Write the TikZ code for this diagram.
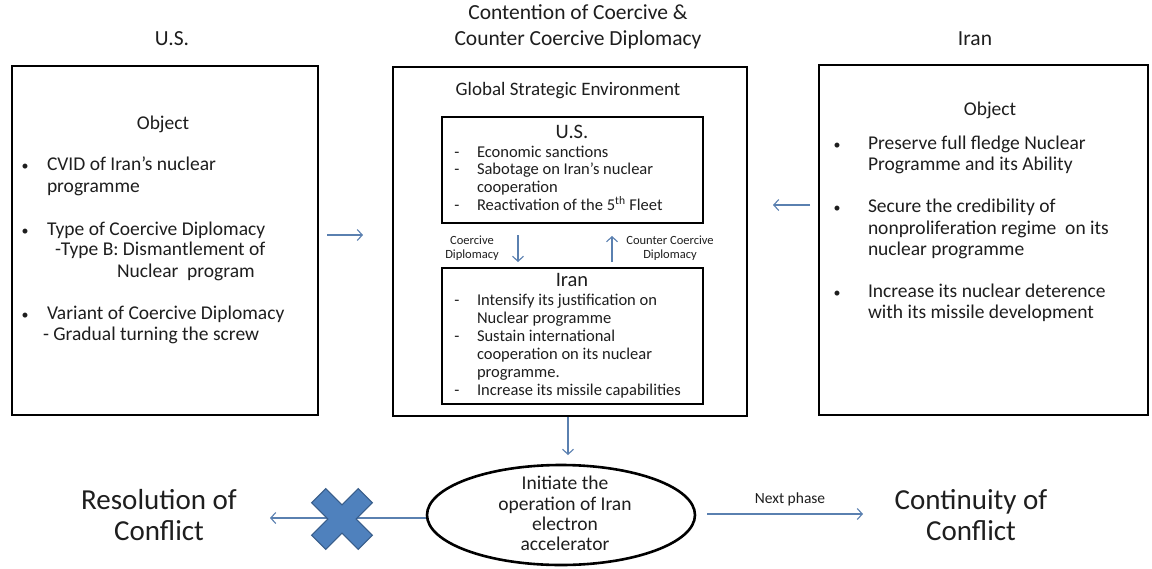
\documentclass[tikz,border=0pt]{standalone}
\usepackage{fontspec}
\setmainfont{Carlito}
\usetikzlibrary{arrows.meta,shapes.geometric}
\newcommand\FS[1]{\fontsize{#1}{#1}\selectfont}
\definecolor{arrowblue}{HTML}{5A80B0}
\definecolor{xfill}{HTML}{4F81BD}
\definecolor{xline}{HTML}{385D8A}
\definecolor{txtc}{HTML}{1E1E1E}
\tikzset{
  txt/.style={inner sep=0pt, outer sep=0pt, text=txtc, anchor=mid},
  ltxt/.style={txt, anchor=mid west},
  box/.style={draw=black, line width=2.4pt, inner sep=0pt, fill=none},
  ibox/.style={draw=black, line width=2.8pt, inner sep=0pt},
  arr/.style={draw=arrowblue, line width=1.1pt, -{Straight Barb[length=5pt,width=11pt]}},
  body/.style={font=\FS{19.5}},
  bul/.style={txt, font=\FS{14}},
  small/.style={font=\FS{16.5}},
  tiny/.style={font=\FS{12.5}},
}
\begin{document}
\begin{tikzpicture}[x=1pt,y=-1pt]
\useasboundingbox (0,0) rectangle (1152,568);
\fill[white] (0,0) rectangle (1152,568);

% top titles
\node[txt, font=\FS{21.5}] (tUS) at (172,43) {U.S.};
\node[txt, font=\FS{21.5}] (tC1) at (578,17) {Contention of Coercive \&};
\node[txt, font=\FS{21.5}] (tC2) at (578,43) {Counter Coercive Diplomacy};
\node[txt, font=\FS{21.5}] (tIran) at (975,43) {Iran};

% boxes
\node[box, minimum width=306, minimum height=349] (lbox) at (165,240.5) {};
\node[box, minimum width=354, minimum height=349] (cbox) at (570,241.5) {};
\node[box, minimum width=329, minimum height=350] (rbox) at (983.5,240) {};

% left box text
\node[txt, body] (lobj) at (163,127) {Object};
\node[bul] (lb1) at (25,168) {\textbullet};
\node[bul] (lb2) at (25,233) {\textbullet};
\node[bul] (lb3) at (25,317) {\textbullet};
\node[ltxt, body] (l1) at (47,168) {CVID of Iran’s nuclear};
\node[ltxt, body] (l2) at (47,190) {programme};
\node[ltxt, body] (l3) at (47,233) {Type of Coercive Diplomacy};
\node[ltxt, body] (l4) at (55,253) {-Type B: Dismantlement of};
\node[ltxt, body] (l5) at (117,275) {Nuclear\ \ program};
\node[ltxt, body] (l6) at (47,317) {Variant of Coercive Diplomacy};
\node[ltxt, body] (l7) at (43,338) {- Gradual turning the screw};

% right box text
\node[txt, body] (robj) at (990,113) {Object};
\node[bul] (rb1) at (837,147) {\textbullet};
\node[bul] (rb2) at (837,210) {\textbullet};
\node[bul] (rb3) at (837,295) {\textbullet};
\node[ltxt, body] (r1) at (868,147) {Preserve full fledge Nuclear};
\node[ltxt, body] (r2) at (868,168) {Programme and its Ability};
\node[ltxt, body] (r3) at (868,210) {Secure the credibility of};
\node[ltxt, body] (r4) at (868,232) {nonproliferation regime\ \ on its};
\node[ltxt, body] (r5) at (868,253) {nuclear programme};
\node[ltxt, body] (r6) at (868,295) {Increase its nuclear deterence};
\node[ltxt, body] (r7) at (868,316) {with its missile development};

% center content
\node[txt, font=\FS{19}] (gse) at (568,93) {Global Strategic Environment};
\node[ibox, minimum width=261, minimum height=106] (usbox) at (572.5,170) {};
\node[txt, font=\FS{20.5}] (ust) at (572,136) {U.S.};
\node[txt, small] (ud1) at (457,155) {-};
\node[txt, small] (ud2) at (457,172) {-};
\node[txt, small] (ud3) at (457,208) {-};
\node[ltxt, small] (u1) at (477,155) {Economic sanctions};
\node[ltxt, small] (u2) at (477,172) {Sabotage on Iran’s nuclear};
\node[ltxt, small] (u3) at (477,190) {cooperation};
\node[ltxt, small] (u4) at (477,208) {Reactivation of the 5\textsuperscript{th} Fleet};

\node[txt, tiny] (cd1) at (472,242) {Coercive};
\node[txt, tiny] (cd2) at (472,256) {Diplomacy};
\node[txt, tiny] (ccd1) at (670,242) {Counter Coercive};
\node[txt, tiny] (ccd2) at (670,256) {Diplomacy};

\node[ibox, minimum width=261, minimum height=136] (irbox) at (572.5,336) {};
\node[txt, font=\FS{20.5}] (irt) at (572,284) {Iran};
\node[txt, small] (id1) at (457,303) {-};
\node[txt, small] (id2) at (457,339) {-};
\node[txt, small] (id3) at (457,393) {-};
\node[ltxt, small] (i1) at (477,303) {Intensify its justification on};
\node[ltxt, small] (i2) at (477,321) {Nuclear programme};
\node[ltxt, small] (i3) at (477,339) {Sustain international};
\node[ltxt, small] (i4) at (477,357) {cooperation on its nuclear};
\node[ltxt, small] (i5) at (477,375) {programme.};
\node[ltxt, small] (i6) at (477,393) {Increase its missile capabilities};

% inner arrows
\coordinate (cdS) at (518,235);
\coordinate (cdE) at (518,262);
\coordinate (ccS) at (612,262);
\coordinate (ccE) at (612,236);
\draw[arr] (cdS) -- (cdE);
\draw[arr] (ccS) -- (ccE);

% side arrows
\coordinate (laS) at (327,235);
\coordinate (laE) at (363,235);
\coordinate (raS) at (810,205);
\coordinate (raE) at (773,205);
\draw[arr] (laS) -- (laE);
\draw[arr] (raS) -- (raE);

% ellipse
\node[ellipse, draw=black, line width=2.6pt, minimum width=268, minimum height=100, inner sep=0pt] (ell) at (561,515) {};
\node[txt, body] (e1) at (565,487) {Initiate the};
\node[txt, body] (e2) at (565,508) {operation of Iran};
\node[txt, body] (e3) at (565,528) {electron};
\node[txt, body] (e4) at (565,548) {accelerator};

\coordinate (dE) at (568,455);
\draw[arr] (cbox.south -| dE) -- (dE);

% bottom
\node[txt, font=\FS{29}] (res1) at (159,507) {Resolution of};
\node[txt, font=\FS{29}] (res2) at (159,538) {Conflict};
\node[txt, font=\FS{29}] (con1) at (971,507) {Continuity of};
\node[txt, font=\FS{29}] (con2) at (971,538) {Conflict};

\coordinate (resTip) at (270,518);
\draw[arr] (ell.west |- resTip) -- (resTip);
\coordinate (conTip) at (863,514);
\coordinate (conS) at (707,514);
\draw[arr] (conS) -- (conTip);
\node[txt, font=\FS{15.5}] (np) at (790,501) {Next phase};

% blue X
\begin{scope}[shift={(342,519)}, rotate=45]
\filldraw[fill=xfill, draw=xline, line width=1pt]
 (10,33) -- (10,10) -- (33,10) -- (33,-10) -- (10,-10) -- (10,-33)
 -- (-10,-33) -- (-10,-10) -- (-33,-10) -- (-33,10) -- (-10,10) -- (-10,33) -- cycle;
\end{scope}
\end{tikzpicture}
\end{document}
